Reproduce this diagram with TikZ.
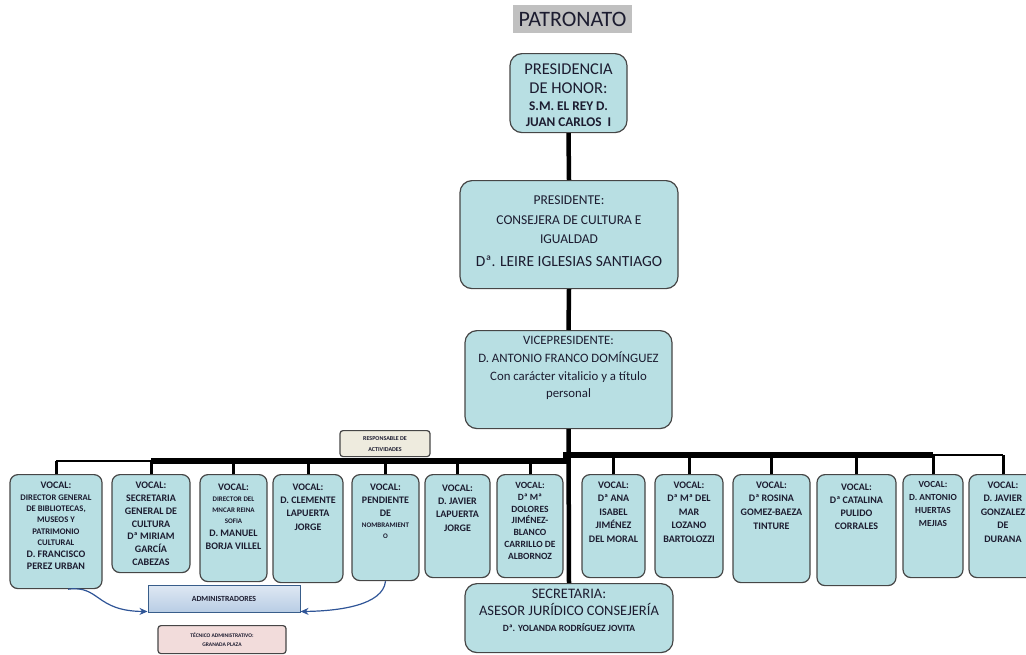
\documentclass[tikz,border=0pt]{standalone}
\usepackage{fontspec}
\setmainfont{Carlito}
\usetikzlibrary{arrows.meta,calc}
\definecolor{boxfill}{RGB}{184,223,227}
\definecolor{boxline}{RGB}{70,70,70}
\definecolor{txt}{RGB}{28,28,48}
\definecolor{arrblue}{RGB}{47,85,151}
\definecolor{titlegray}{RGB}{192,192,192}
\definecolor{respfill}{RGB}{238,235,222}
\definecolor{admtop}{RGB}{222,231,243}
\definecolor{admbot}{RGB}{184,204,228}
\definecolor{admline}{RGB}{56,93,138}
\definecolor{tecfill}{RGB}{242,220,219}
\newcommand{\fsV}{\fontsize{10}{13.3}\selectfont}
\newcommand{\fsS}{\fontsize{8.6}{11.4}\selectfont}
\newcommand{\fsT}{\fontsize{7}{11}\selectfont}
\newcommand{\tbox}[3]{\parbox[t][#2pt][t]{#1pt}{\centering\vspace*{#3pt}}}
\tikzset{
  box/.style={draw=boxline, line width=1.2pt, fill=boxfill, text=txt, inner sep=0pt, anchor=north},
  vocal/.style={box, rounded corners=8pt, font=\bfseries},
  bigbox/.style={box, rounded corners=12pt},
  trunk/.style={line width=4.5pt},
  busthick/.style={line width=5.5pt},
  busthin/.style={line width=2.5pt},
  drop/.style={line width=3pt},
  curvearrow/.style={draw=arrblue, line width=1.2pt, -{Stealth[length=8pt,width=7pt]}}
}
\newcommand{\vtext}[4]{\parbox[t][#2pt][t]{#1pt}{\centering\vspace*{#3pt}#4}}
\begin{document}
\begin{tikzpicture}[x=1pt,y=-1pt]
\useasboundingbox (0,0) rectangle (1026,654);
% title
\node[fill=titlegray, text=txt, minimum width=119pt, minimum height=28pt, inner sep=0pt, font=\fontsize{22}{26}\selectfont] (title) at (572.5,19) {PATRONATO};
% top boxes
\node[bigbox] (hon) at (568.5,53) {\vtext{117}{79}{10.4}{{\fontsize{16.5}{19}\selectfont PRESIDENCIA\\DE HONOR:\par}{\bfseries\fontsize{13.3}{16.5}\selectfont S.M. EL REY D.\\JUAN CARLOS\ \ I\par}}};
\node[bigbox] (pres) at (569,180) {\vtext{218}{108}{15.3}{{\fontsize{13.5}{19.5}\selectfont PRESIDENTE:\\CONSEJERA DE CULTURA E\\IGUALDAD\par}{\fontsize{15.5}{23}\selectfont Dª. LEIRE IGLESIAS SANTIAGO\par}}};
\node[bigbox] (vice) at (568.5,330) {\vtext{207}{98}{5.6}{\fontsize{12.8}{17.8}\selectfont VICEPRESIDENTE:\\D. ANTONIO FRANCO DOMÍNGUEZ\\Con carácter vitalicio y a título\\personal\par}};
\node[bigbox] (sec) at (569,583) {\vtext{208}{69}{5.7}{{\fontsize{14.5}{17}\selectfont SECRETARIA:\\ASESOR JURÍDICO CONSEJERÍA\par}{\bfseries\fontsize{9.5}{16}\selectfont Dª. YOLANDA RODRÍGUEZ JOVITA\par}}};
% small boxes
\node[box, fill=respfill, rounded corners=3pt, minimum width=90pt, minimum height=26pt, align=center, font=\bfseries\fontsize{6}{11}\selectfont] (resp) at (385,430) {RESPONSABLE DE\\ACTIVIDADES};
\node[box, draw=admline, line width=1pt, top color=admtop, bottom color=admbot, minimum width=152pt, minimum height=27pt, font=\bfseries\fontsize{7.8}{9}\selectfont] (adm) at (224,585) {ADMINISTRADORES};
\node[box, fill=tecfill, rounded corners=3pt, minimum width=128pt, minimum height=28pt, align=center, font=\bfseries\fontsize{5.5}{9}\selectfont] (tec) at (222,625) {TÉCNICO ADMINISTRATIVO:\\GRANADA PLAZA};
% vocals
\node[vocal] (v1) at (56,474) {\vtext{92}{114}{7.6}{{\fsV VOCAL:\par}{\fsS DIRECTOR GENERAL\\DE BIBLIOTECAS,\\MUSEOS Y\\PATRIMONIO\\CULTURAL\par}{\fontsize{10}{12}\selectfont D. FRANCISCO\\PEREZ URBAN\par}}};
\node[vocal] (v2) at (151,474) {\vtext{78}{98}{7.6}{\fontsize{10}{12.8}\selectfont VOCAL:\\SECRETARIA\\GENERAL DE\\CULTURA\\Dª MIRIAM\\GARCÍA\\CABEZAS\par}};
\node[vocal] (v3) at (233.5,474) {\vtext{67}{107}{9}{{\fsV VOCAL:\par}{\fsT DIRECTOR DEL\\MNCAR REINA\\SOFIA\par}{\fontsize{10}{13}\selectfont D. MANUEL\\BORJA VILLEL\par}}};
\node[vocal] (v4) at (308,474) {\vtext{70}{108}{9}{\fsV VOCAL:\\D. CLEMENTE\\LAPUERTA\\JORGE\par}};
\node[vocal] (v5) at (385.5,474) {\vtext{67}{106}{9}{{\fsV VOCAL:\\PENDIENTE\\DE\par}{\fsT NOMBRAMIENT\\O\par}}};
\node[vocal] (v6) at (457.5,474) {\vtext{65}{103}{10}{\fsV VOCAL:\\D. JAVIER\\LAPUERTA\\JORGE\par}};
\node[vocal] (v7) at (530,474) {\vtext{66}{103}{7.6}{\fontsize{9.5}{11.8}\selectfont VOCAL:\\Dª Mª\\DOLORES\\JIMÉNEZ-\\BLANCO\\CARRILLO DE\\ALBORNOZ\par}};
\node[vocal] (v8) at (613.5,474) {\vtext{63}{103}{7}{\fontsize{10}{13.5}\selectfont VOCAL:\\Dª ANA\\ISABEL\\JIMÉNEZ\\DEL MORAL\par}};
\node[vocal] (v9) at (689,474) {\vtext{68}{103}{7}{\fontsize{10}{13.5}\selectfont VOCAL:\\Dª Mª DEL\\MAR\\LOZANO\\BARTOLOZZI\par}};
\node[vocal] (v10) at (771.5,474) {\vtext{77}{108}{7}{\fontsize{10}{13.7}\selectfont VOCAL:\\Dª ROSINA\\GOMEZ-BAEZA\\TINTURE\par}};
\node[vocal] (v11) at (856.5,474) {\vtext{79}{111}{9.5}{\fontsize{10}{13}\selectfont VOCAL:\\Dª CATALINA\\PULIDO\\CORRALES\par}};
\node[vocal] (v12) at (933,474) {\vtext{60}{103}{6.5}{\fontsize{9.3}{13}\selectfont VOCAL:\\D. ANTONIO\\HUERTAS\\MEJIAS\par}};
\node[vocal] (v13) at (1003,474) {\vtext{68}{103}{7}{\fontsize{10}{13.5}\selectfont VOCAL:\\D. JAVIER\\GONZALEZ\\DE\\DURANA\par}};
% trunk
\draw[trunk] (hon.south) -- (pres.north);
\draw[trunk] (pres.south) -- (vice.north);
\draw[trunk] (vice.south) -- (sec.north);
% buses
\coordinate (busL) at (568,461);
\coordinate (busR) at (563,455);
\draw[busthick] (busL) -- (v2.north |- busL);
\draw[busthin] (v2.north |- busL) -- (v1.north |- busL);
\draw[busthick] (busR) -- (v12.north |- busR);
\draw[busthin] (v12.north |- busR) -- (v13.north |- busR);
\foreach \v in {v1,v2,v3,v4,v5,v6,v7} { \draw[drop] (\v.north) -- (\v.north |- busL); }
\foreach \v in {v8,v9,v10,v11,v12,v13} { \draw[drop] (\v.north) -- (\v.north |- busR); }
% curved arrows
\draw[curvearrow] ([xshift=12pt]v1.south) .. controls (100,585) and (95,611) .. ([yshift=1.5pt]adm.south west);
\draw[curvearrow] (v5.south) .. controls (383,605) and (340,611) .. ([yshift=1.5pt]adm.south east);
\end{tikzpicture}
\end{document}
